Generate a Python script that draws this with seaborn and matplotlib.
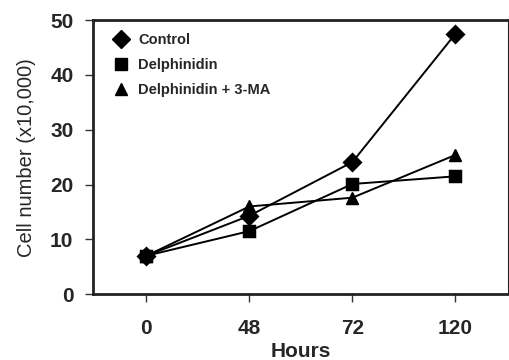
import pandas as pd
import matplotlib.pyplot as plt
import seaborn as sns
from matplotlib.lines import Line2D

hours = ['0', '48', '72', '120']
control = [7.0, 14.3, 24.1, 47.5]
delphinidin = [7.0, 11.5, 20.1, 21.5]
delph_3ma = [7.0, 16.0, 17.6, 25.4]
series_names = ['Control', 'Delphinidin', 'Delphinidin + 3-MA']
markers = ['D', 's', '^']

df = pd.DataFrame({
    'Hours': hours * 3,
    'Cells': control + delphinidin + delph_3ma,
    'Group': [n for n in series_names for _ in hours],
})

sns.set_style('ticks')
plt.rcParams['font.family'] = ['Liberation Sans', 'DejaVu Sans']

fig = plt.figure(figsize=(5.1, 3.6), dpi=100)
ax = fig.add_axes([0.182, 0.183, 0.816, 0.761])

sns.pointplot(data=df, x='Hours', y='Cells', hue='Group', order=hours,
              hue_order=series_names, palette=['black'] * 3, markers=markers,
              linestyles='-', markersize=9, linewidth=1.4, ax=ax, legend=False)

ax.set_xlim(-0.52, 3.52)
ax.set_ylim(0, 50)
ax.set_yticks([0, 10, 20, 30, 40, 50])
ax.tick_params(axis='both', labelsize=15, length=6, width=1, color='#333333')
ax.tick_params(axis='x', pad=12)
ax.tick_params(axis='y', pad=8)
for lab in ax.get_xticklabels() + ax.get_yticklabels():
    lab.set_fontweight('bold')
ax.set_xlabel('Hours', fontsize=15, fontweight='bold', labelpad=3)
ax.set_ylabel('Cell number (x10,000)', fontsize=14.5, labelpad=10)

for side in ['left', 'bottom', 'top']:
    ax.spines[side].set_linewidth(2)
    ax.spines[side].set_color('#222222')
ax.spines['right'].set_linewidth(1.5)
ax.spines['right'].set_color('#222222')

handles = [Line2D([], [], color='black', marker=m, linestyle='none', markersize=9)
           for m in markers]
ax.legend(handles, series_names, loc='upper left', frameon=False,
          prop={'size': 10.5, 'weight': 'bold'}, handletextpad=0.2,
          labelspacing=0.75, borderaxespad=0.5, bbox_to_anchor=(0.0, 1.0))

fig.savefig('out.png', dpi=100)
